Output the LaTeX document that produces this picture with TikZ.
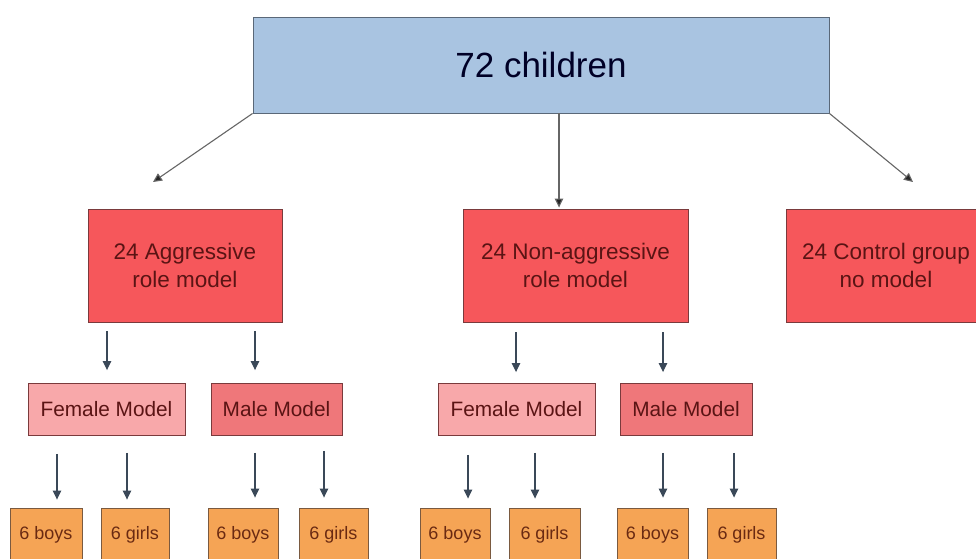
\documentclass[tikz,border=0pt]{standalone}
\usepackage{fontspec}
\setmainfont{Liberation Sans}
\usetikzlibrary{arrows.meta,calc}
\definecolor{topfill}{HTML}{A9C4E1}
\definecolor{topline}{HTML}{5A6878}
\definecolor{redfill}{HTML}{F6575B}
\definecolor{redline}{HTML}{7A3A3C}
\definecolor{femfill}{HTML}{F8A8AA}
\definecolor{malefill}{HTML}{EF777A}
\definecolor{orfill}{HTML}{F5A455}
\definecolor{orline}{HTML}{7A5A40}
\definecolor{redtext}{HTML}{5A1414}
\definecolor{ortext}{HTML}{6A2A12}
\definecolor{arrcol}{HTML}{3A4858}
\tikzset{
  box/.style={draw, line width=0.9pt, inner sep=0pt, anchor=center},
  topbox/.style={box, fill=topfill, draw=topline, minimum width=576pt, minimum height=96pt,
    font=\fontsize{35}{40}\selectfont, text=black!85!blue},
  redbox/.style={box, fill=redfill, draw=redline, minimum height=113pt, align=center,
    font=\fontsize{22.5}{28}\selectfont, text=redtext},
  fembox/.style={box, fill=femfill, draw=redline, minimum width=157pt, minimum height=52pt,
    font=\fontsize{20.8}{24}\selectfont, text=redtext},
  malebox/.style={box, fill=malefill, draw=redline, minimum width=131pt, minimum height=52pt,
    font=\fontsize{20.8}{24}\selectfont, text=redtext},
  kidbox/.style={box, fill=orfill, draw=orline, minimum height=54pt,
    font=\fontsize{18}{22}\selectfont, text=ortext},
  arr/.style={draw=arrcol, line width=1.1pt, -{Triangle[length=9pt,width=8.5pt]}},
  arrg/.style={draw=black!60, line width=1.1pt, -{Triangle[length=9pt,width=8.5pt,fill=black!85]}},
}
\begin{document}
\begin{tikzpicture}[x=1pt,y=-1pt]
\useasboundingbox (0,0) rectangle (976,558);
\fill[white] (0,0) rectangle (976,558);

\node[topbox] (top) at (541,65) {72 children};

\node[redbox, minimum width=194pt] (agg) at (185,265.5) {24 Aggressive\\role model};
\node[redbox, minimum width=225pt] (non) at (575.5,265.5) {24 Non-aggressive\\role model};
\node[redbox, minimum width=200pt] (ctl) at (886,265.5) {24 Control group\\no model};

\node[fembox] (f1) at (106.5,409.5) {Female Model};
\node[malebox] (m1) at (276.5,409.5) {Male Model};
\node[fembox] (f2) at (516.5,409.5) {Female Model};
\node[malebox, minimum width=132pt] (m2) at (686,409.5) {Male Model};

\node[kidbox, minimum width=72pt] (b1) at (46,535) {6 boys};
\node[kidbox, minimum width=68pt] (g1) at (135,535) {6 girls};
\node[kidbox, minimum width=70pt] (b2) at (243,535) {6 boys};
\node[kidbox, minimum width=69pt] (g2) at (333.5,535) {6 girls};
\node[kidbox, minimum width=70pt] (b3) at (455,535) {6 boys};
\node[kidbox, minimum width=71pt] (g3) at (544.5,535) {6 girls};
\node[kidbox, minimum width=71pt] (b4) at (652.5,535) {6 boys};
\node[kidbox, minimum width=69pt] (g4) at (741.5,535) {6 girls};

% level 1 connectors
\coordinate (lend) at (153,182);
\coordinate (rend) at (913,182);
\draw[arrg] (top.south west) -- (lend);
\draw[arrg] (top.south east) -- (rend);
\draw[arrg] ($(top.south)+(18,0)$) -- ($(non.north)+(-16.5,-1)$);

% level 2 connectors
\draw[arr, shorten <=9pt, shorten >=13pt] ($(agg.south)+(-78,0)$) -- ($(f1.north)+(0.5,0)$);
\draw[arr, shorten <=9pt, shorten >=13pt] ($(agg.south)+(70,0)$) -- ($(m1.north)+(-21.5,0)$);
\draw[arr, shorten <=10pt, shorten >=11pt] ($(non.south)+(-59.5,0)$) -- ($(f2.north)+(-0.5,0)$);
\draw[arr, shorten <=10pt, shorten >=11pt] ($(non.south)+(87.5,0)$) -- ($(m2.north)+(-23,0)$);

% level 3 connectors
\draw[arr, shorten <=18pt, shorten >=8pt] ($(f1.south)+(-49.5,0)$) -- ($(b1.north)+(11,0)$);
\draw[arr, shorten <=17pt, shorten >=8pt] ($(f1.south)+(20.5,0)$) -- ($(g1.north)+(-8,0)$);
\draw[arr, shorten <=17pt, shorten >=10pt] ($(m1.south)+(-21.5,0)$) -- ($(b2.north)+(12,0)$);
\draw[arr, shorten <=15pt, shorten >=10pt] ($(m1.south)+(47.5,0)$) -- ($(g2.north)+(-9.5,0)$);
\draw[arr, shorten <=19pt, shorten >=9pt] ($(f2.south)+(-48.5,0)$) -- ($(b3.north)+(13,0)$);
\draw[arr, shorten <=17pt, shorten >=9pt] ($(f2.south)+(18.5,0)$) -- ($(g3.north)+(-9.5,0)$);
\draw[arr, shorten <=17pt, shorten >=10pt] ($(m2.south)+(-23,0)$) -- ($(b4.north)+(10.5,0)$);
\draw[arr, shorten <=17pt, shorten >=10pt] ($(m2.south)+(48,0)$) -- ($(g4.north)+(-7.5,0)$);
\end{tikzpicture}
\end{document}
